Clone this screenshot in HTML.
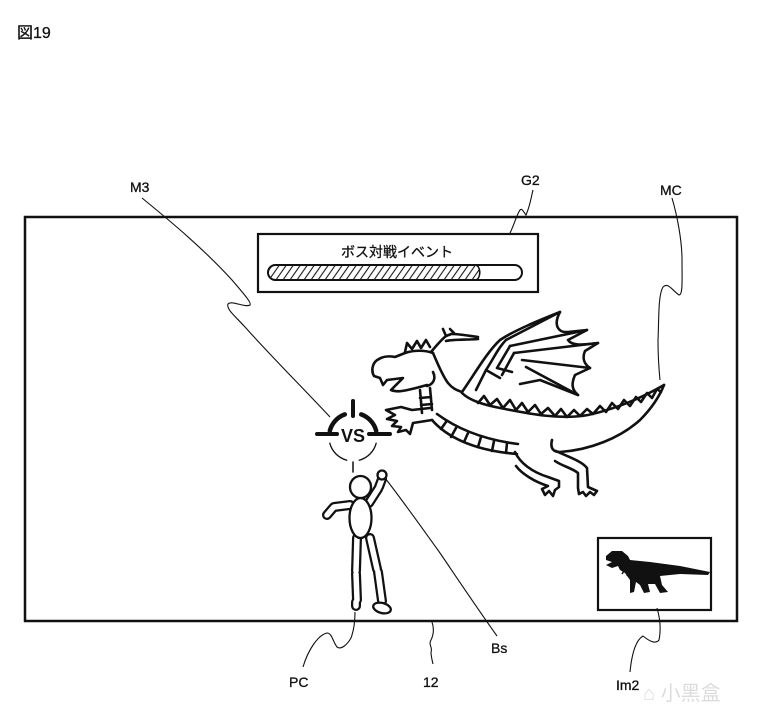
<!DOCTYPE html>
<html><head><meta charset="utf-8"><style>
html,body{margin:0;padding:0;background:#fff;}
svg{display:block;}
text{font-family:"Liberation Sans","Noto Sans CJK JP",sans-serif;fill:#111;}
</style></head><body>
<svg width="757" height="725" viewBox="0 0 757 725" xmlns="http://www.w3.org/2000/svg">
<defs>
<pattern id="hatch" patternUnits="userSpaceOnUse" width="7" height="15" patternTransform="skewX(-35)">
<rect width="7" height="15" fill="#fff"/>
<line x1="3" y1="0" x2="3" y2="15" stroke="#111" stroke-width="1.3"/>
</pattern>
</defs>
<rect width="757" height="725" fill="#fff"/>

<text x="17" y="38" font-size="16" stroke="#111" stroke-width="0.3">図19</text>

<!-- main screen -->
<rect x="25" y="217" width="712" height="404" fill="none" stroke="#111" stroke-width="2.5"/>

<!-- G2 box -->
<rect x="258" y="234" width="280" height="58" fill="none" stroke="#111" stroke-width="2.2"/>
<text x="397" y="257" font-size="14" text-anchor="middle" stroke="#111" stroke-width="0.3">ボス対戦イベント</text>
<path d="M275.5,265 H476 C481,267 481,278 476,280 H275.5 A7.5,7.5 0 0 1 275.5,265 Z" fill="url(#hatch)" stroke="#111" stroke-width="1.6"/>
<rect x="268" y="265" width="254" height="15" rx="7.5" fill="none" stroke="#111" stroke-width="2"/>

<!-- labels -->
<g font-size="14" stroke="#111" stroke-width="0.3">
<text x="130" y="192">M3</text>
<text x="521" y="185">G2</text>
<text x="660" y="195">MC</text>
<text x="289" y="687">PC</text>
<text x="423" y="687">12</text>
<text x="491" y="653">Bs</text>
<text x="616" y="690">Im2</text>
</g>

<!-- leaders -->
<g fill="none" stroke="#111" stroke-width="1.1">
<path d="M142,198 C165,217 200,245 232,280 C243,293 252,303 250,305 C245,308 232,300 228,304 C226,309 235,316 245,327 C270,355 300,385 330,417"/>
<path d="M533,190 C531,198 530,206 526,215 C523,211 522,208 520,210 C517,214 514,225 510,233"/>
<path d="M672,198 C677,215 682,240 682,260 C682,280 683,295 679,295 C672,290 668,282 663,287 C658,295 659,320 658,340 C658,355 659,370 660,380"/>
<path d="M355,612 C355,620 354,630 351,638 C347,645 341,650 337,647 C333,642 332,633 327,633 C318,635 308,650 303,667"/>
<path d="M432,622 C434,628 434,634 431,640 C428,644 433,648 431,652 C431,656 432,660 433,664"/>
<path d="M385,478 C400,497 420,525 440,553 C455,575 475,605 497,636"/>
<path d="M657,608 C660,618 661,630 659,640 C655,645 648,640 643,636 C636,640 632,652 630,672"/>
</g>

<!-- VS target -->
<g fill="none" stroke="#111" stroke-linecap="round">
<path d="M329.8,430.8 A24,24 0 0 1 344.8,414.4" stroke-width="4.5"/>
<path d="M361.2,414.4 A24,24 0 0 1 376.2,430.8" stroke-width="4.5"/>
<path d="M329.8,443.2 A24,24 0 0 0 346.8,460.2" stroke-width="1.3"/>
<path d="M359.2,460.2 A24,24 0 0 0 376.2,443.2" stroke-width="1.3"/>
<line x1="353" y1="401" x2="353" y2="416" stroke-width="4"/>
<line x1="353" y1="462" x2="353" y2="472" stroke-width="1.5"/>
<line x1="317" y1="434" x2="337" y2="434" stroke-width="4"/>
<line x1="369" y1="434" x2="390" y2="434" stroke-width="4"/>
</g>
<text x="353" y="442" font-size="18" font-weight="bold" text-anchor="middle">VS</text>

<!-- person -->
<g stroke-linecap="round" fill="none">
<g stroke="#111" stroke-width="10">
<line x1="369" y1="503" x2="378" y2="489"/>
<line x1="379" y1="487" x2="382" y2="479"/>
<line x1="350" y1="505" x2="334" y2="507"/>
<line x1="333" y1="508" x2="327" y2="515"/>
<line x1="357" y1="538" x2="356" y2="571"/>
<line x1="356" y1="574" x2="357" y2="600"/>
<line x1="356" y1="602" x2="356" y2="606"/>
<line x1="370" y1="538" x2="377" y2="569"/>
<line x1="378" y1="572" x2="382" y2="601"/>
</g>
<g stroke="#fff" stroke-width="5.5">
<line x1="369" y1="503" x2="378" y2="489"/>
<line x1="379" y1="487" x2="382" y2="479"/>
<line x1="350" y1="505" x2="334" y2="507"/>
<line x1="333" y1="508" x2="327" y2="515"/>
<line x1="357" y1="538" x2="356" y2="571"/>
<line x1="356" y1="574" x2="357" y2="600"/>
<line x1="356" y1="602" x2="356" y2="606"/>
<line x1="370" y1="538" x2="377" y2="569"/>
<line x1="378" y1="572" x2="382" y2="601"/>
</g>
</g>
<g fill="#fff" stroke="#111" stroke-width="2.3">
<ellipse cx="382" cy="475" rx="4.5" ry="4.5"/>
<ellipse cx="360.5" cy="518" rx="11" ry="20"/>
<ellipse cx="360.5" cy="487" rx="10.5" ry="11"/>
<ellipse cx="382" cy="608" rx="9" ry="5" transform="rotate(15 382 608)"/>
</g>

<!-- dragon -->
<g fill="none" stroke="#111" stroke-width="2.6" stroke-linejoin="round" stroke-linecap="round">
<!-- head -->
<path d="M433,353 C425,350 414,350 405,353 L395,357 C390,356 384,356 379,359 C372,362 371,371 374,376 L380,378 L383,385 L387,380 L403,378 L391,390 C398,393 408,390 416,388 L427,385"/>
<path d="M433,372 C436,378 434,384 427,386"/>
<path d="M433,353 C437,362 442,375 448,383 C452,388 456,390 462,392"/>
<!-- crest -->
<path d="M405,352 L407,343 L412,349 L417,341 L421,348 L426,340 L430,347"/>
<!-- antler -->
<path d="M431,352 C436,346 441,340 446,336 L443,329 M446,336 L454,333 L450,329 M452,334 C460,334 470,336 478,337 M446,341 C455,339 468,340 478,339"/>
<!-- neck -->
<path d="M420,390 L422,413 M430,388 L432,410 M420,398 L431,397 M421,405 L432,404"/>
<!-- arm & claws -->
<path d="M430,408 L412,410 L401,407 L386,410 L395,415 L387,419 L397,421 L392,426 L401,427 L398,432 L406,430 L410,434 L413,423 L432,420"/>
<!-- belly -->
<path d="M432,420 C445,435 470,450 517,454"/>
<path d="M437,414 C452,425 478,439 518,444"/>
<path d="M446,422 L441,429 M456,428 L451,437 M468,433 L464,442 M481,437 L478,447 M494,441 L492,451 M507,443 L506,453"/>
<!-- front leg -->
<path d="M515,452 C520,463 532,472 548,477 L559,481 L559,487 L555,490 L553,496 L549,491 L545,495 L542,489 L548,486 C535,482 522,474 516,466"/>
<!-- rear leg -->
<path d="M556,451 C566,456 582,461 587,468 L588,487 L597,491 L594,495 L590,492 L586,496 L583,492 L579,494 L578,488 L578,473 C572,468 562,466 555,461"/>
<!-- tail -->
<path d="M552,440 C550,448 553,452 560,452 C590,450 620,438 640,420 C652,408 660,395 664,385"/>
<path d="M664,385 C645,396 620,408 588,415 C560,420 530,414 500,408 C485,405 470,401 462,393"/>
<path d="M478,403 L484,396 L490,405 L497,399 L503,408 L510,400 L516,410 L522,403 L528,412 L535,405 L541,414 L548,408 L555,416 L561,409 L567,417 L574,410 L580,416 L587,409 L593,414 L600,406 L606,412 L612,403 L618,409 L624,400 L630,406 L636,397 L641,402 L647,393 L652,398 L657,389 L661,392"/>
<!-- wing -->
<path d="M462,392 C474,375 487,352 500,340 C515,330 540,320 560,312 C553,325 558,333 568,332 L587,330 L568,340 C572,346 582,345 598,343 L585,351 C582,358 584,364 590,368 L575,375 C571,384 572,390 578,395 L540,380 L520,384"/>
<path d="M560,312 L506,340 M587,330 L510,346 M598,343 L514,353 M590,368 L522,360 M578,395 L526,367"/>
<path d="M506,340 C498,348 494,358 486,370 L476,390 M510,346 L497,368 M514,353 L502,375 M486,370 L500,378 M497,368 L512,372"/>
</g>

<!-- Im2 box -->
<rect x="598" y="538" width="113" height="72" fill="none" stroke="#111" stroke-width="2.2"/>
<path d="M606,556 L612,551 L622,551 L628,556 L630,560 L650,562 L680,566 L710,572 L708,575 L680,574 L660,576 L662,585 L668,592 L660,593 L655,584 L648,584 L650,592 L644,593 L640,585 L636,582 L634,592 L630,593 L630,580 L625,573 L620,570 L618,566 L612,568 L606,565 L612,562 L606,560 Z" fill="#111"/>
<path d="M626,568 L622,574 M630,570 L627,576" stroke="#111" stroke-width="1.5"/>

<!-- watermark -->
<text x="643" y="700" font-size="20" fill="#dcdcdc" style="fill:#dcdcdc">⌂ 小黑盒</text>
</svg>
</body></html>
